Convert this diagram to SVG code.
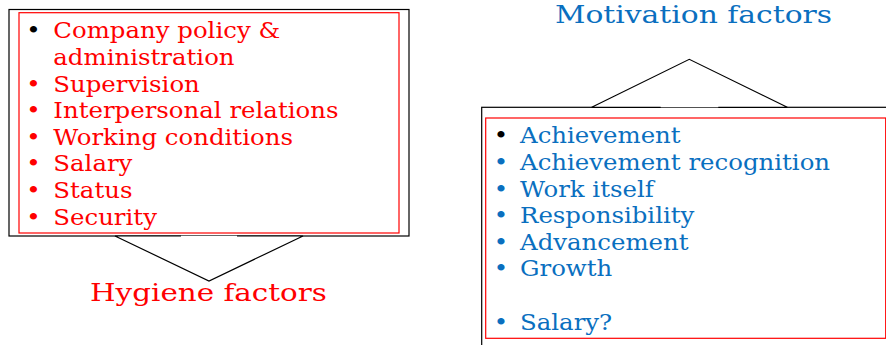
<svg xmlns="http://www.w3.org/2000/svg" width="886" height="345" viewBox="0 0 886 345">
  <style>
    .frame { fill: #ffffff; stroke: #000000; stroke-width: 1.2; }
    .inner { fill: none; stroke: #ff0000; stroke-width: 1.2; }
    .t { font-family: 'DejaVu Serif', 'Liberation Serif', serif; font-size: 22px; }
    .title { font-family: 'DejaVu Serif', 'Liberation Serif', serif; font-size: 25px; }
    .red { fill: #ff0000; }
    .blue { fill: #0a6fbf; }
    .blk { fill: #000000; }
    .bul { text-anchor: middle; }
    .callout { fill: #ffffff; stroke: none; }
    .edge { fill: none; stroke: #000000; stroke-width: 1.2; stroke-linejoin: miter; }
  </style>

  <!-- Hygiene factors box -->
  <g id="hygiene-box">
    <rect class="frame" x="9" y="9.5" width="400" height="226.5"/>
    <rect class="inner" x="19" y="12.7" width="380" height="220.3"/>
    <g class="t">
      <text class="blk bul" transform="matrix(1.11 0 0 1 33.5 38.3)">•</text>
      <text class="red" transform="matrix(1.11 0 0 1 53.3 38.3)">Company policy &amp;</text>
      <text class="red" transform="matrix(1.11 0 0 1 53.3 64.9)">administration</text>
      <text class="red bul" transform="matrix(1.11 0 0 1 33.5 91.5)">•</text>
      <text class="red" transform="matrix(1.11 0 0 1 53.3 91.5)">Supervision</text>
      <text class="red bul" transform="matrix(1.11 0 0 1 33.5 118.1)">•</text>
      <text class="red" transform="matrix(1.11 0 0 1 53.3 118.1)">Interpersonal relations</text>
      <text class="red bul" transform="matrix(1.11 0 0 1 33.5 144.7)">•</text>
      <text class="red" transform="matrix(1.11 0 0 1 53.3 144.7)">Working conditions</text>
      <text class="red bul" transform="matrix(1.11 0 0 1 33.5 171.3)">•</text>
      <text class="red" transform="matrix(1.11 0 0 1 53.3 171.3)">Salary</text>
      <text class="red bul" transform="matrix(1.11 0 0 1 33.5 197.9)">•</text>
      <text class="red" transform="matrix(1.11 0 0 1 53.3 197.9)">Status</text>
      <text class="red bul" transform="matrix(1.11 0 0 1 33.5 224.5)">•</text>
      <text class="red" transform="matrix(1.11 0 0 1 53.3 224.5)">Security</text>
    </g>
  </g>

  <!-- Motivation factors box (runs off the right and bottom edges) -->
  <g id="motivation-box">
    <rect class="frame" x="481.7" y="107.3" width="420" height="260"/>
    <rect class="inner" x="485.7" y="118" width="400" height="220.3"/>
    <g class="t">
      <text class="blk bul" transform="matrix(1.11 0 0 1 501 143.3)">•</text>
      <text class="blue" transform="matrix(1.11 0 0 1 520 143.3)">Achievement</text>
      <text class="blue bul" transform="matrix(1.11 0 0 1 501 169.9)">•</text>
      <text class="blue" transform="matrix(1.11 0 0 1 520 169.9)">Achievement recognition</text>
      <text class="blue bul" transform="matrix(1.11 0 0 1 501 196.5)">•</text>
      <text class="blue" transform="matrix(1.11 0 0 1 520 196.5)">Work itself</text>
      <text class="blue bul" transform="matrix(1.11 0 0 1 501 223.1)">•</text>
      <text class="blue" transform="matrix(1.11 0 0 1 520 223.1)">Responsibility</text>
      <text class="blue bul" transform="matrix(1.11 0 0 1 501 249.7)">•</text>
      <text class="blue" transform="matrix(1.11 0 0 1 520 249.7)">Advancement</text>
      <text class="blue bul" transform="matrix(1.11 0 0 1 501 276.3)">•</text>
      <text class="blue" transform="matrix(1.11 0 0 1 520 276.3)">Growth</text>
      <text class="blue bul" transform="matrix(1.11 0 0 1 501 329.5)">•</text>
      <text class="blue" transform="matrix(1.11 0 0 1 520 329.5)">Salary?</text>
    </g>
  </g>

  <!-- Group labels -->
  <g id="hygiene-label">
    <text class="title red" transform="matrix(1.175 0 0 1 90 301)">Hygiene factors</text>
  </g>
  <g id="motivation-label">
    <text class="title blue" transform="matrix(1.19 0 0 1 555 23.3)">Motivation factors</text>
  </g>

  <!-- Callout pointers joining each box to its label -->
  <g id="connectors">
    <polygon class="callout" points="115,236 303,236 209,281"/>
    <polyline class="edge" points="181,236 115,236 209,281 303,236 237,236"/>
    <polygon class="callout" points="591.7,107.3 787.3,107.3 689.3,59.3"/>
    <polyline class="edge" points="660.7,107.3 591.7,107.3 689.3,59.3 787.3,107.3 718.3,107.3"/>
  </g>
</svg>
